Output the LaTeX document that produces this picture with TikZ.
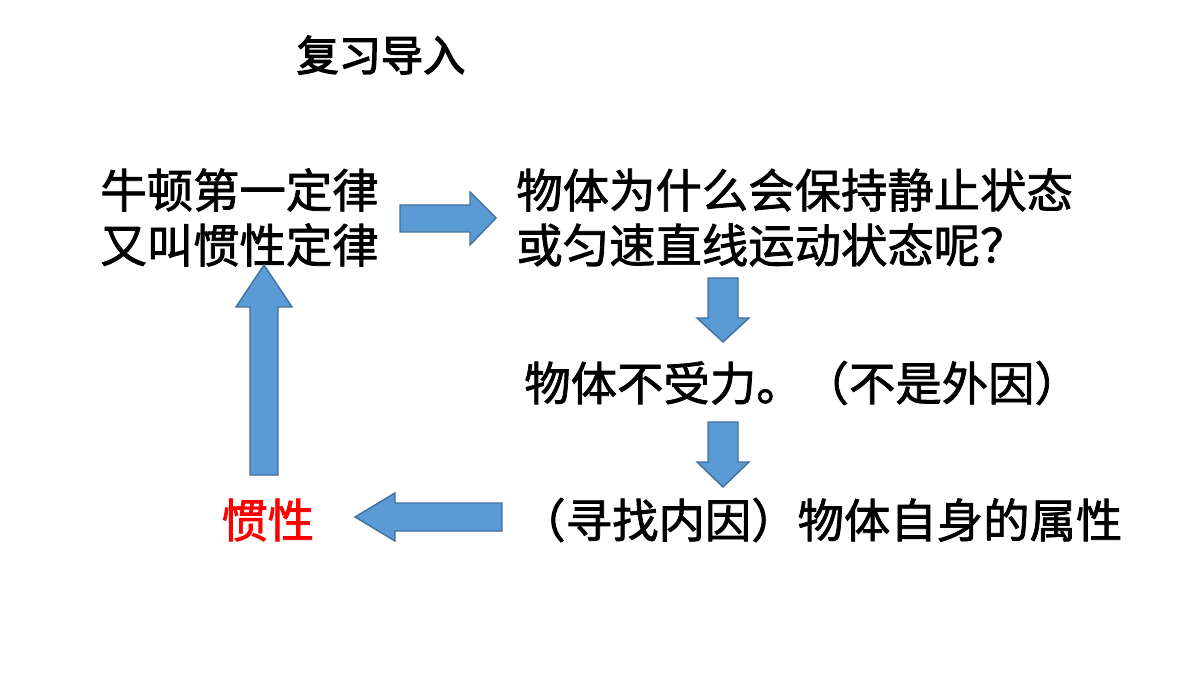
\documentclass[tikz,border=0pt]{standalone}
\usepackage{fontspec}
\newfontfamily\cjk{Noto Sans CJK SC}[AutoFakeBold=1.6]
\newfontfamily\cjkb{Noto Sans CJK SC}[AutoFakeBold=3]
\definecolor{arrfill}{HTML}{5B9BD5}
\definecolor{arrline}{HTML}{41719C}
\begin{document}
\begin{tikzpicture}[x=0.02cm,y=-0.02cm,
  txt/.style={font=\cjk\bfseries\fontsize{26.4}{34}\selectfont,anchor=west,inner sep=0},
  arr/.style={fill=arrfill,draw=arrline,line width=0.8pt}]
\useasboundingbox (0,0) rectangle (1200,675);
\node[font=\cjkb\bfseries\fontsize{24}{28}\selectfont,inner sep=0] (title) at (381,55) {复习导入};
\node[txt] (a1) at (100,190) {牛顿第一定律};
\node[txt] (a2) at (100,245) {又叫惯性定律};
\node[txt] (b1) at (516,190) {物体为什么会保持静止状态};
\node[txt] (b2) at (516,245) {或匀速直线运动状态呢？};
\node[txt] (c) at (524,383) {物体不受力。（不是外因）};
\node[txt] (d) at (519,520) {（寻找内因）物体自身的属性};
\node[txt,text=red] (e) at (221,520) {惯性};
% right arrow
\draw[arr] (400,205) -- (470,205) -- (470,192) -- (496,218) -- (470,245) -- (470,232) -- (400,232) -- cycle;
% down arrows
\draw[arr] (708,278) -- (738,278) -- (738,318) -- (749,318) -- (723,342) -- (697,318) -- (708,318) -- cycle;
\draw[arr] (708,422) -- (738,422) -- (738,462) -- (749,462) -- (723,487) -- (697,462) -- (708,462) -- cycle;
% left arrow
\draw[arr] (502,503) -- (395,503) -- (395,493) -- (355,517) -- (395,541) -- (395,531) -- (502,531) -- cycle;
% up arrow
\draw[arr] (250,475) -- (250,307) -- (236,307) -- (264,265) -- (292,307) -- (278,307) -- (278,475) -- cycle;
\end{tikzpicture}
\end{document}
